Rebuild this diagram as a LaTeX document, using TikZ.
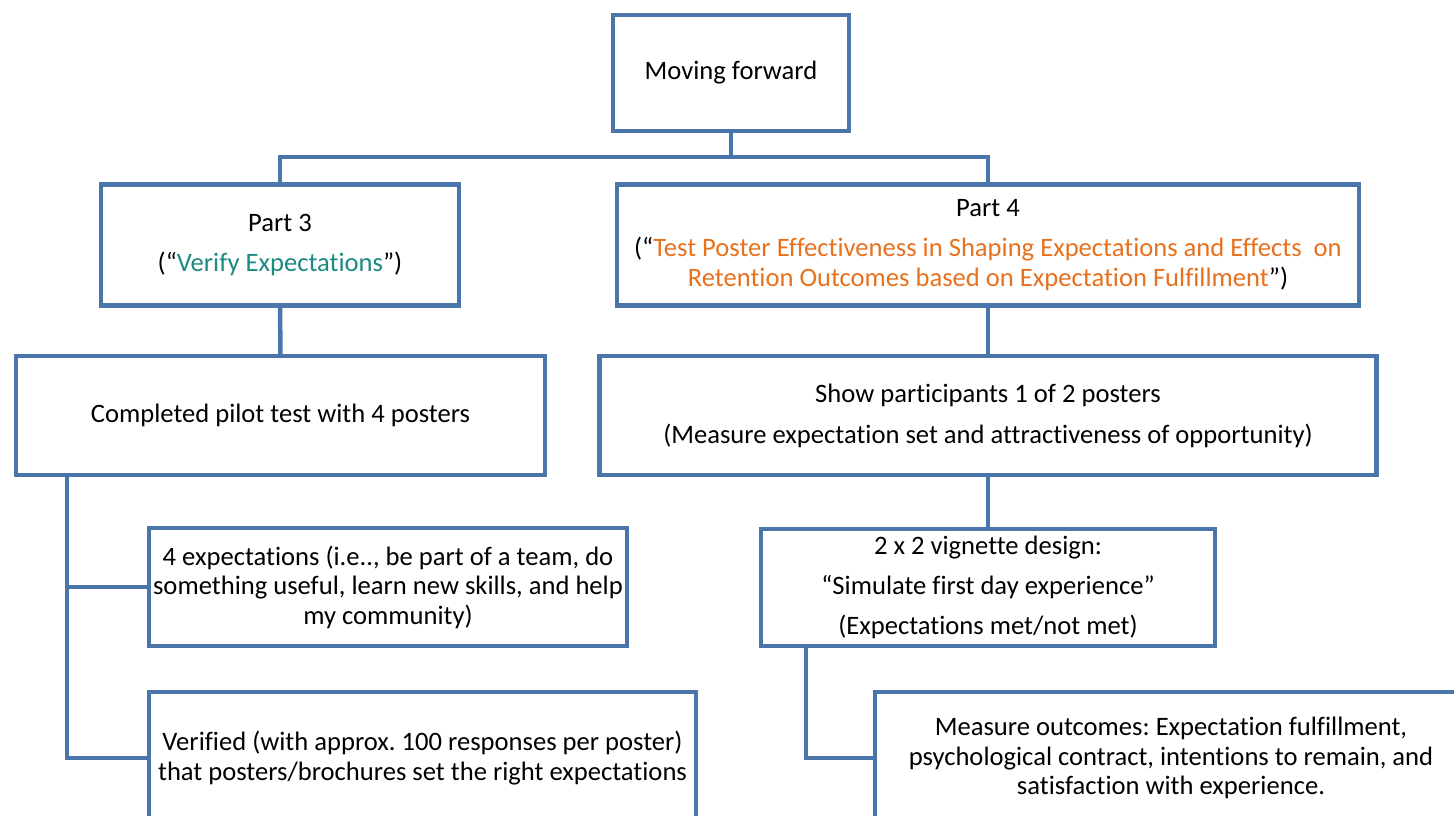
\documentclass[tikz,border=0pt]{standalone}
\usepackage{fontspec}
\setmainfont{Carlito}[Ligatures=NoCommon]
\usetikzlibrary{calc}
\definecolor{boxblue}{RGB}{74,118,172}
\definecolor{tealtext}{RGB}{27,138,128}
\definecolor{orangetext}{RGB}{232,113,30}
\frenchspacing
\begin{document}
\begin{tikzpicture}[x=1pt,y=-1pt,
  every node/.style={font=\fontsize{26.6}{29.5}\selectfont},
  box/.style={draw=boxblue, line width=4.5pt, fill=white, align=center,
    inner sep=0pt, outer sep=0pt},
  link/.style={draw=boxblue, line width=4.5pt}]
\useasboundingbox (0,0) rectangle (1454,816);
\clip (0,0) rectangle (1454,816);

% top level
\node[box, minimum width=236, minimum height=116] (top) at (731,73) {Moving forward};

% the two parts
\node[box, minimum width=358, minimum height=121] (part3) at (280,245)
  {Part 3\\[11pt](“\textcolor{tealtext}{Verify Expectations}”)};
\node[box, minimum width=742, minimum height=121] (part4) at (988,245)
  {Part 4\\[10.5pt](“\textcolor{orangetext}{Test Poster Effectiveness in Shaping Expectations and Effects\ \ on}\\
   \textcolor{orangetext}{Retention Outcomes based on Expectation Fulfillment}”)};

% second level
\node[box, minimum width=529, minimum height=119] (completed) at (280.5,415.5)
  {Completed pilot test with 4 posters};
\node[box, minimum width=777, minimum height=119] (show) at (988,415.5)
  {Show participants 1 of 2 posters\\[11.5pt](Measure expectation set and attractiveness of opportunity)};

% left branch
\node[box, minimum width=478, minimum height=118] (fourexp) at (388,587)
  {4 expectations (i.e.., be part of a team, do\\something useful, learn new skills, and help\\my community)};
\node[box, minimum width=547, minimum height=132] (verified) at (422.5,758)
  {Verified (with approx. 100 responses per poster)\\that posters/brochures set the right expectations};

% right branch
\node[box, minimum width=454, minimum height=117] (twobytwo) at (988,587.5)
  {2 x 2 vignette design:\\[10.5pt]“Simulate first day experience”\\[10.5pt](Expectations met/not met)};
\node[box, minimum width=592, minimum height=132] (measure) at (1171,758)
  {Measure outcomes: Expectation fulfillment,\\psychological contract, intentions to remain, and\\satisfaction with experience.};

% connectors
\coordinate (bus) at (731,157);
\draw[link] (top.south) -- (bus);
\draw[link] (part3.north) |- (bus) -| (part4.north);
\draw[link] (part3.south) -- (completed.north);
\draw[link] (part4.south) -- (show.north);
\draw[link] (show.south) -- (twobytwo.north);
\coordinate (spine) at ($(completed.south west)+(51,0)$);
\draw[link] (spine) |- (fourexp.west);
\draw[link] (spine) |- (verified.west);
\coordinate (drop) at ($(twobytwo.south west)+(45,0)$);
\draw[link] (drop) |- (measure.west);
\end{tikzpicture}
\end{document}
